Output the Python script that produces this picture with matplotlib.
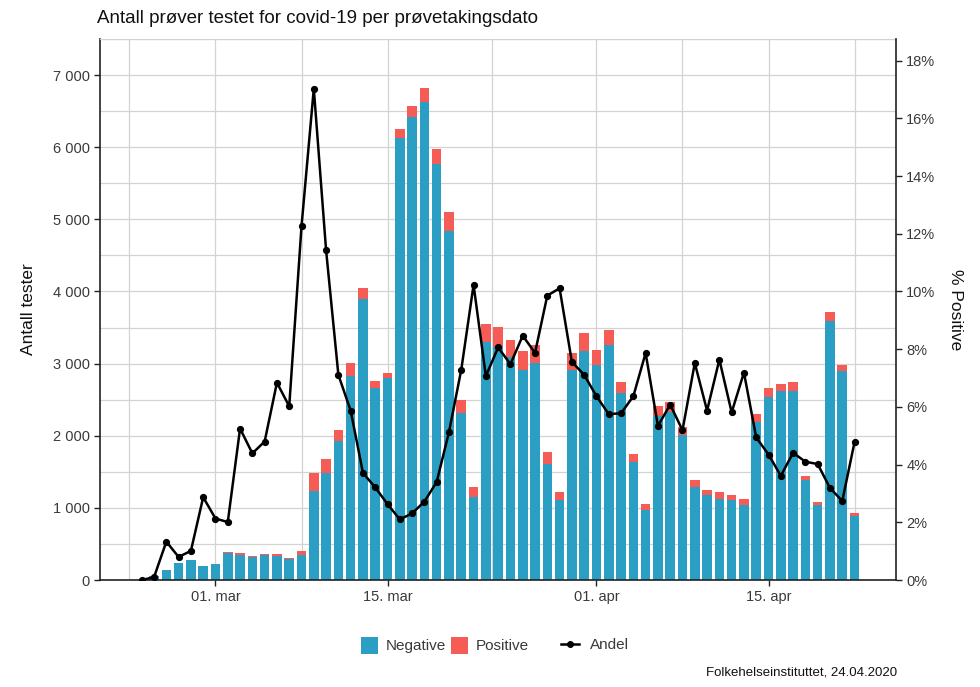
import numpy as np
import pandas as pd
import matplotlib
matplotlib.use("Agg")
from matplotlib import pyplot as plt
import matplotlib.dates as mdates
from matplotlib.patches import Patch
from matplotlib.lines import Line2D
from matplotlib.ticker import FuncFormatter, MultipleLocator

plt.rcParams['font.family'] = ['Liberation Sans', 'DejaVu Sans']

# one value per sampling date, 24.02 - 22.04.2020
dates = pd.date_range("2020-02-24", "2020-04-22", freq="D")

negative = [3, 50, 136, 235, 279, 192, 223, 374, 352, 317, 344, 332, 289, 347,
            1231, 1490, 1929, 2830, 3896, 2667, 2794, 6126, 6416, 6631, 5772, 4842,
            2316, 1154, 3300, 3229, 3085, 2906, 3007, 1605, 1103, 2913, 3179,
            2987, 3263, 2586, 1630, 966, 2280, 2323, 2017, 1285, 1173, 1129, 1109,
            1047, 2186, 2540, 2622, 2624, 1385, 1035, 3592, 2900, 886]
positive = [0, 0, 2, 2, 3, 6, 5, 8, 19, 14, 17, 24, 18, 49,
            253, 192, 148, 177, 150, 88, 75, 131, 152, 185, 203, 262,
            182, 132, 251, 283, 249, 269, 257, 176, 124, 238, 243,
            203, 199, 159, 111, 83, 129, 150, 110, 105, 73, 93, 68,
            81, 114, 116, 98, 121, 59, 43, 118, 82, 44]
andel = [0.0, 0.1, 1.33, 0.80, 1.01, 2.87, 2.13, 2.01, 5.25, 4.39, 4.80, 6.84, 6.02, 12.26,
         17.03, 11.43, 7.11, 5.87, 3.71, 3.21, 2.63, 2.10, 2.31, 2.72, 3.40, 5.13,
         7.29, 10.23, 7.07, 8.06, 7.48, 8.47, 7.87, 9.86, 10.11, 7.56, 7.11,
         6.37, 5.75, 5.78, 6.37, 7.87, 5.34, 6.08, 5.19, 7.52, 5.87, 7.64, 5.81,
         7.19, 4.94, 4.35, 3.61, 4.41, 4.10, 4.02, 3.19, 2.74, 4.78]

major_ticks = ["2020-03-01", "2020-03-15", "2020-04-01", "2020-04-15"]
major_labels = ["01. mar", "15. mar", "01. apr", "15. apr"]
minor_ticks = ["2020-02-23 00:00", "2020-03-08 00:00", "2020-03-23 12:00",
               "2020-04-08 00:00", "2020-04-22 00:00"]

NEG_COL = "#2b9fc3"
POS_COL = "#f65c56"
TXT_COL = "#3a3a3a"
GRID_COL = "#d3d3d3"

fig = plt.figure(figsize=(9.8, 6.87), dpi=100)
ax = fig.add_axes([0.102, 0.1557, 0.812, 0.7875])

neg = np.array(negative)
pos = np.array(positive)
ax.bar(dates, neg, width=0.78, color=NEG_COL, zorder=2)
ax.bar(dates, pos, width=0.78, bottom=neg, color=POS_COL, zorder=2)

ax.set_ylim(0, 7500)
ax.yaxis.set_major_locator(MultipleLocator(1000))
ax.yaxis.set_minor_locator(MultipleLocator(500))
ax.yaxis.set_major_formatter(FuncFormatter(lambda v, p: f"{v:,.0f}".replace(",", " ")))

mar1 = mdates.date2num(pd.Timestamp("2020-03-01"))
ax.set_xlim(mar1 - 9.4, mar1 + 55.35)
ax.set_xticks(pd.to_datetime(major_ticks))
ax.set_xticklabels(major_labels)
ax.set_xticks(pd.to_datetime(minor_ticks, format="%Y-%m-%d %H:%M"), minor=True)

ax.grid(True, which="both", color=GRID_COL, linewidth=0.9, zorder=0)
ax.set_axisbelow(True)
ax.tick_params(which="minor", length=0)
ax.tick_params(which="major", length=4, width=1, colors="#222222",
               labelcolor=TXT_COL, labelsize=10.5)

for s in ["left", "bottom"]:
    ax.spines[s].set_color("#222222")
    ax.spines[s].set_linewidth(1.2)
ax.spines["top"].set_color(GRID_COL)
ax.spines["right"].set_visible(False)

ax.set_ylabel("Antall tester", fontsize=12.5, color="#111111", labelpad=12)

ax2 = ax.twinx()
ax2.plot(dates, andel, color="black", linewidth=1.8, marker="o", markersize=4.2, zorder=5)
ax2.set_ylim(0, 18.75)
ax2.yaxis.set_major_locator(MultipleLocator(2))
ax2.yaxis.set_major_formatter(FuncFormatter(lambda v, p: f"{v:.0f}%"))
ax2.tick_params(length=4, width=1, colors="#222222", labelcolor=TXT_COL, labelsize=10.5)
for s in ["left", "top", "bottom"]:
    ax2.spines[s].set_visible(False)
ax2.spines["right"].set_color("#222222")
ax2.spines["right"].set_linewidth(1.2)
ax2.set_ylabel("% Positive", fontsize=12.5, color="#111111", rotation=270, labelpad=20)

fig.text(0.099, 0.973, "Antall prøver testet for covid-19 per prøvetakingsdato",
         fontsize=13.5, color="#111111", ha="left", va="center")

fill_handles = [Patch(facecolor=NEG_COL, label="Negative"),
                Patch(facecolor=POS_COL, label="Positive")]
leg1 = fig.legend(handles=fill_handles, loc="center", bbox_to_anchor=(0.454, 0.061),
                  ncol=2, frameon=False, fontsize=11, handlelength=1.15, handleheight=1.35,
                  handletextpad=0.5, columnspacing=0.3)
for t in leg1.get_texts():
    t.set_color(TXT_COL)
line_handle = [Line2D([0], [0], color="black", linewidth=1.8, marker="o", markersize=4,
                      label="Andel")]
leg2 = fig.legend(handles=line_handle, loc="center", bbox_to_anchor=(0.607, 0.061),
                  frameon=False, fontsize=11, handlelength=1.2, handletextpad=0.7)
for t in leg2.get_texts():
    t.set_color(TXT_COL)

fig.text(0.915, 0.013, "Folkehelseinstituttet, 24.04.2020", fontsize=9.5,
         color="#111111", ha="right", va="bottom")

fig.savefig("out.png", dpi=100)
